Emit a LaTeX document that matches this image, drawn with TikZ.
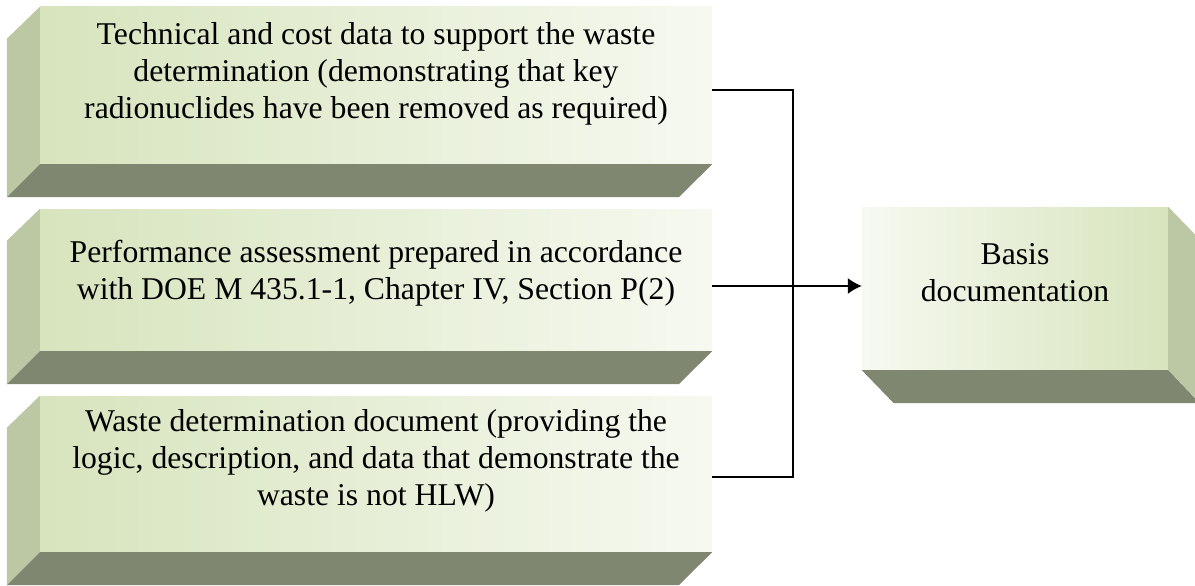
\documentclass[tikz,border=0pt]{standalone}
\usepackage{fontspec}
\setmainfont{Liberation Serif}
\usetikzlibrary{arrows.meta}

\definecolor{frontgreen}{HTML}{D7E4BD}
\definecolor{frontpale}{HTML}{F6F9F0}
\definecolor{sidegreen}{HTML}{BCC8A3}
\definecolor{basegreen}{HTML}{7F8770}

\begin{document}
\begin{tikzpicture}[x=1pt,y=-1pt,
    front/.style={rectangle,inner sep=0pt,minimum width=672pt,left color=frontgreen,right color=frontpale},
    boxtext/.style={inner sep=0pt,align=center,font=\fontsize{31.7pt}{37pt}\selectfont},
    conn/.style={draw=black,line width=1.5pt}]
\clip (0,0) rectangle (1195,586);
\node[front,minimum height=157pt] (tech) at (376,85.5) {};
\node[front,minimum height=142pt] (perf) at (376,280) {};
\node[front,minimum height=156pt] (waste) at (376,474) {};
\node[rectangle,inner sep=0pt,minimum width=306pt,minimum height=163pt,left color=frontpale,right color=frontgreen] (basis) at (1015,288.5) {};
\foreach \b in {tech,perf,waste} {
  \fill[sidegreen] (\b.north west) -- ++(-33,32) |- ([xshift=-33pt,yshift=-33pt]\b.south west) -- (\b.south west) -- cycle;
  \fill[basegreen] (\b.south west) -- ++(-33,33) -- ++(672,0) -- (\b.south east) -- cycle;
}
\fill[sidegreen] (basis.north east) -- ++(32,33) -- ++(0,163) -- (basis.south east) -- cycle;
\fill[basegreen] (basis.south west) -- ++(32,33) -- ++(306,0) -- (basis.south east) -- cycle;
\node[boxtext] (techtext) at (376,74) {Technical and cost data to support the waste\\determination (demonstrating that key\\radionuclides have been removed as required)};
\node[boxtext] (perftext) at (376,273.5) {Performance assessment prepared in accordance\\with DOE M 435.1-1, Chapter IV, Section P(2)};
\node[boxtext] (wastetext) at (376,461) {Waste determination document (providing the\\logic, description, and data that demonstrate the\\waste is not HLW)};
\node[boxtext] (basistext) at (1015,273) {Basis\\documentation};
\coordinate (join) at (793,286);
\draw[conn] ([yshift=-4.5pt]tech.east) -| (join) |- ([yshift=-3pt]waste.east);
\draw[conn,-{Latex[length=14pt,width=16pt]}] ([yshift=-6pt]perf.east) -- ([yshift=-6pt]perf.east -| basis.west);
\end{tikzpicture}
\end{document}
